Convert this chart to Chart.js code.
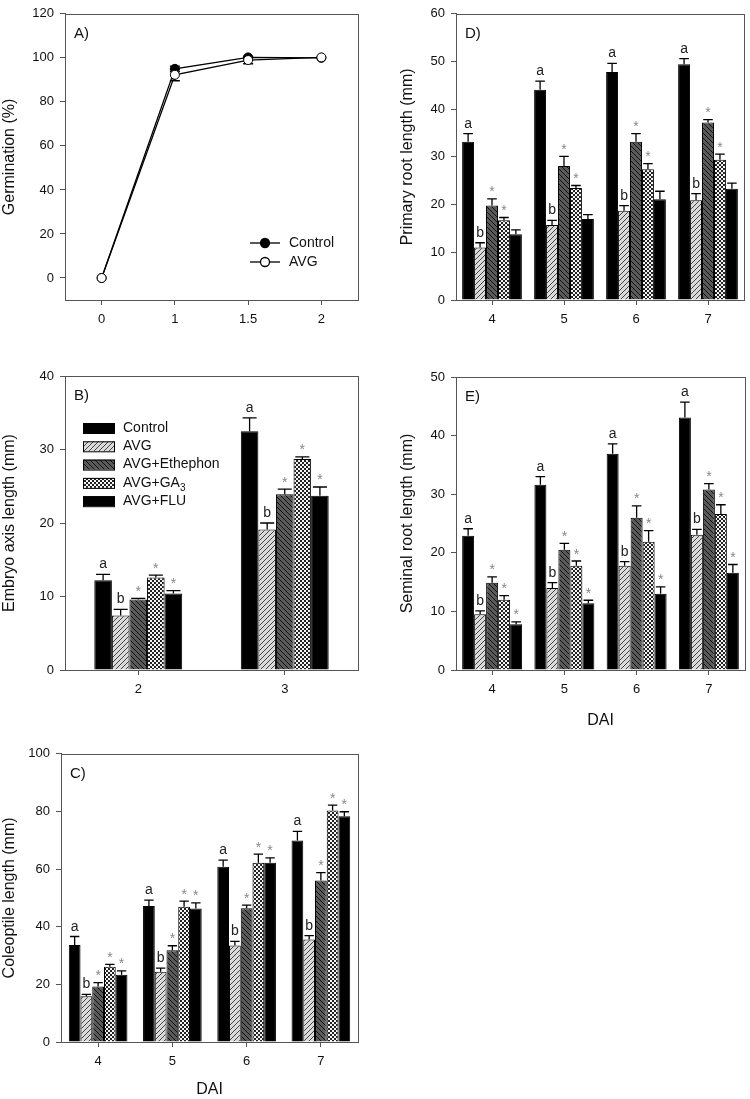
<!DOCTYPE html>
<html>
<head>
<meta charset="utf-8">
<script src="https://cdn.jsdelivr.net/npm/chart.js@4.4.0/dist/chart.umd.min.js"></script>
<style>
  body { margin: 0; background: #fff; width: 750px; height: 1099px; position: relative; overflow: hidden; }
  .panel { position: absolute; }
</style>
</head>
<body>
<div class="panel" style="left:0;top:0;width:375px;height:340px"><canvas id="chartA"></canvas></div>
<div class="panel" style="left:0;top:360px;width:375px;height:360px"><canvas id="chartB"></canvas></div>
<div class="panel" style="left:0;top:740px;width:375px;height:359px"><canvas id="chartC"></canvas></div>
<div class="panel" style="left:375px;top:0;width:375px;height:340px"><canvas id="chartD"></canvas></div>
<div class="panel" style="left:375px;top:360px;width:375px;height:370px"><canvas id="chartE"></canvas></div>
<script>
/* ============================
   DATA
   ============================ */

const treatments = ["Control", "AVG", "AVG+Ethephon", "AVG+GA3", "AVG+FLU"];

// A) germination (%)
const germDays = ["0", "1", "1.5", "2"];
const germControl    = [0, 95.0, 100.2, 100];
const germControlErr = [0, 1.2, 0.4, 0];
const germAVG        = [0, 92.3, 99.0, 100.2];
const germAVGErr     = [0, 2.7, 1.7, 0];

// B) embryo axis length (mm)
const embryoDays = ["2", "3"];
const embryoControl = [12.2, 32.5];
const embryoAVG     = [7.4, 19.1];
const embryoEth     = [9.6, 23.9];
const embryoGA3     = [12.6, 28.7];
const embryoFLU     = [10.4, 23.7];
const embryoControlErr = [0.8, 1.8];
const embryoAVGErr     = [0.85, 0.9];
const embryoEthErr     = [0.15, 0.7];
const embryoGA3Err     = [0.3, 0.3];
const embryoFLUErr     = [0.4, 1.2];
const embryoSig = ["a", "b", "*", "*", "*"];

// C) coleoptile length (mm)
const dai = ["4", "5", "6", "7"];
const coleControl = [33.7, 47.2, 60.8, 69.9];
const coleAVG     = [15.9, 24.4, 33.5, 35.6];
const coleEth     = [19.3, 31.8, 46.4, 56.0];
const coleGA3     = [26.1, 46.9, 62.2, 80.3];
const coleFLU     = [23.3, 46.3, 62.2, 78.3];
const coleControlErr = [2.9, 2.0, 2.3, 3.2];
const coleAVGErr     = [0.6, 1.2, 1.4, 1.3];
const coleEthErr     = [1.3, 1.6, 1.1, 2.8];
const coleGA3Err     = [0.8, 2.0, 3.0, 1.9];
const coleFLUErr     = [1.4, 2.0, 1.7, 1.6];
const coleSig = ["a", "b", "*", "*", "*"];

// D) primary root length (mm)
const primControl = [33.2, 44.1, 47.8, 49.4];
const primAVG     = [11.0, 15.7, 18.7, 20.9];
const primEth     = [19.8, 28.1, 33.2, 37.2];
const primGA3     = [16.7, 23.5, 27.4, 29.4];
const primFLU     = [13.8, 17.0, 21.1, 23.3];
const primControlErr = [1.7, 1.8, 1.8, 1.2];
const primAVGErr     = [1.0, 1.0, 1.1, 1.4];
const primEthErr     = [1.4, 2.0, 1.7, 0.6];
const primGA3Err     = [0.6, 0.5, 1.2, 1.2];
const primFLUErr     = [0.9, 0.9, 1.7, 1.2];
const primSig = ["a", "b", "*", "*", ""];

// E) seminal root length (mm)
const semControl = [22.9, 31.6, 36.9, 43.1];
const semAVG     = [9.5, 14.0, 17.8, 23.1];
const semEth     = [14.9, 20.5, 26.0, 30.8];
const semGA3     = [12.0, 17.8, 21.9, 26.6];
const semFLU     = [7.8, 11.4, 13.0, 16.6];
const semControlErr = [1.2, 1.4, 1.7, 2.6];
const semAVGErr     = [0.6, 0.9, 0.7, 0.9];
const semEthErr     = [1.0, 1.1, 2.0, 1.0];
const semGA3Err     = [0.7, 0.8, 1.9, 1.6];
const semFLUErr     = [0.4, 0.5, 1.2, 1.4];
const semSig = ["a", "b", "*", "*", "*"];

/* ============================
   STYLE HELPERS
   ============================ */

const FONT = "'Liberation Sans', Arial, Helvetica, sans-serif";
const AXIS_GRAY = "#555";
Chart.defaults.font.family = FONT;
Chart.defaults.color = "#111";

function makePattern(kind) {
  const c = document.createElement("canvas");
  const g = c.getContext("2d");
  if (kind === "avg") {
    c.width = c.height = 5;
    g.fillStyle = "#dadada"; g.fillRect(0, 0, 5, 5);
    g.strokeStyle = "#444"; g.lineWidth = 1;
    g.beginPath();
    g.moveTo(0, 5); g.lineTo(5, 0);
    g.moveTo(-1, 1); g.lineTo(1, -1);
    g.moveTo(4, 6); g.lineTo(6, 4);
    g.stroke();
  } else if (kind === "eth") {
    c.width = c.height = 5;
    g.fillStyle = "#5a5a5a"; g.fillRect(0, 0, 5, 5);
    g.strokeStyle = "#111"; g.lineWidth = 1;
    g.beginPath();
    g.moveTo(0, 0); g.lineTo(5, 5);
    g.moveTo(-1, 4); g.lineTo(1, 6);
    g.moveTo(4, -1); g.lineTo(6, 1);
    g.stroke();
  } else {
    c.width = c.height = 4;
    g.fillStyle = "#f4f4f4"; g.fillRect(0, 0, 4, 4);
    g.fillStyle = "#222";
    g.fillRect(0, 0, 2, 2); g.fillRect(2, 2, 2, 2);
  }
  return g.createPattern(c, "repeat");
}

const treatmentFills = ["#000", makePattern("avg"), makePattern("eth"), makePattern("ga3"), "#000"];

/* ============================
   PLUGINS
   ============================ */

// full box around the plot area
const framePlugin = {
  id: "frame",
  afterDraw(chart) {
    const a = chart.chartArea, ctx = chart.ctx;
    ctx.save();
    ctx.strokeStyle = AXIS_GRAY;
    ctx.lineWidth = 1;
    ctx.strokeRect(Math.round(a.left) + 0.5, Math.round(a.top) + 0.5,
                   Math.round(a.right - a.left), Math.round(a.bottom - a.top));
    ctx.restore();
  }
};

// "A)", "B)" ... tag in the top-left corner
const tagPlugin = {
  id: "tag",
  afterDraw(chart, args, opts) {
    if (!opts.text) return;
    const a = chart.chartArea, ctx = chart.ctx;
    ctx.save();
    ctx.font = "15px " + FONT;
    ctx.fillStyle = "#111";
    ctx.textAlign = "left";
    ctx.textBaseline = "alphabetic";
    ctx.fillText(opts.text, a.left + 9, a.top + 24);
    ctx.restore();
  }
};

// upper error bars + significance letters on bars
const barExtrasPlugin = {
  id: "barExtras",
  afterDatasetsDraw(chart) {
    if (chart.config.type !== "bar") return;
    const ctx = chart.ctx, y = chart.scales.y;
    chart.data.datasets.forEach((ds, i) => {
      const meta = chart.getDatasetMeta(i);
      meta.data.forEach((bar, j) => {
        const yt = y.getPixelForValue(ds.data[j] + ds.err[j]);
        const cap = bar.width * 0.4;
        ctx.save();
        ctx.strokeStyle = "#000";
        ctx.lineWidth = 1.3;
        ctx.beginPath();
        ctx.moveTo(bar.x, bar.y); ctx.lineTo(bar.x, yt);
        ctx.moveTo(bar.x - cap, yt); ctx.lineTo(bar.x + cap, yt);
        ctx.stroke();
        const s = ds.sig;
        if (s) {
          ctx.textAlign = "center";
          ctx.textBaseline = "alphabetic";
          if (s === "*") {
            ctx.font = "14px " + FONT;
            ctx.fillStyle = "#888";
            ctx.fillText(s, bar.x, yt - 2.5);
          } else {
            ctx.font = "14px " + FONT;
            ctx.fillStyle = "#222";
            ctx.fillText(s, bar.x, yt - 6);
          }
        }
        ctx.restore();
      });
    });
  }
};

// symmetric error bars for the germination curve, under the points
const lineErrPlugin = {
  id: "lineErr",
  beforeDatasetsDraw(chart) {
    if (chart.config.type !== "line") return;
    const ctx = chart.ctx, y = chart.scales.y;
    chart.data.datasets.forEach((ds, i) => {
      chart.getDatasetMeta(i).data.forEach((pt, j) => {
        const e = ds.err[j];
        if (!e) return;
        const y1 = y.getPixelForValue(ds.data[j] - e);
        const y2 = y.getPixelForValue(ds.data[j] + e);
        ctx.save();
        ctx.strokeStyle = "#000";
        ctx.lineWidth = 1.3;
        ctx.beginPath();
        ctx.moveTo(pt.x, y1); ctx.lineTo(pt.x, y2);
        ctx.moveTo(pt.x - 5, y1); ctx.lineTo(pt.x + 5, y1);
        ctx.moveTo(pt.x - 5, y2); ctx.lineTo(pt.x + 5, y2);
        ctx.stroke();
        ctx.restore();
      });
    });
  }
};

// legend drawn inside the plot area
const innerLegendPlugin = {
  id: "innerLegend",
  afterDraw(chart, args, opts) {
    if (!opts.mode) return;
    const a = chart.chartArea, ctx = chart.ctx;
    ctx.save();
    ctx.font = "14px " + FONT;
    ctx.fillStyle = "#111";
    ctx.textBaseline = "middle";
    ctx.textAlign = "left";
    if (opts.mode === "line") {
      chart.data.datasets.forEach((ds, i) => {
        const yy = a.bottom - 57 + i * 19;
        const x0 = a.right - 108, x1 = a.right - 78;
        ctx.strokeStyle = "#000"; ctx.lineWidth = 1.3;
        ctx.beginPath(); ctx.moveTo(x0, yy); ctx.lineTo(x1, yy); ctx.stroke();
        ctx.beginPath(); ctx.arc((x0 + x1) / 2, yy, 4.5, 0, Math.PI * 2);
        ctx.fillStyle = ds.pointBackgroundColor; ctx.fill(); ctx.stroke();
        ctx.fillStyle = "#111";
        ctx.fillText(ds.label, a.right - 69, yy);
      });
    } else {
      chart.data.datasets.forEach((ds, i) => {
        const yy = a.top + 52 + i * 18.3;
        const bx = a.left + 18;
        ctx.fillStyle = ds.backgroundColor;
        ctx.fillRect(bx, yy - 5, 32, 10);
        ctx.strokeStyle = "#000"; ctx.lineWidth = 1;
        ctx.strokeRect(bx + 0.5, yy - 5 + 0.5, 31, 10);
        ctx.fillStyle = "#111";
        ctx.font = "14px " + FONT;
        const m = ds.label.match(/^(.*GA)(\d)$/);
        if (m) {
          ctx.fillText(m[1], a.left + 58, yy);
          const w = ctx.measureText(m[1]).width;
          ctx.font = "10px " + FONT;
          ctx.fillText(m[2], a.left + 58 + w, yy + 5);
        } else {
          ctx.fillText(ds.label, a.left + 58, yy);
        }
      });
    }
    ctx.restore();
  }
};

Chart.register(framePlugin, tagPlugin, barExtrasPlugin, lineErrPlugin, innerLegendPlugin);

/* ============================
   SCALE FACTORY
   ============================ */

function xScale(opts) {
  return {
    type: "category",
    offset: true,
    grid: { display: true, offset: false, drawOnChartArea: false, drawTicks: true, tickLength: 5, color: AXIS_GRAY },
    border: { display: true, color: AXIS_GRAY },
    ticks: { font: { size: 13 }, color: "#111", padding: 7, maxRotation: 0 },
    title: opts.title ? { display: true, text: opts.title, font: { size: 16 }, color: "#111", padding: { top: opts.titlePad || 0, bottom: 0 } } : { display: false },
    afterFit(s) { s.height = opts.height; }
  };
}

function yScale(opts) {
  return {
    min: opts.min, max: opts.max,
    grid: { display: true, drawOnChartArea: false, drawTicks: true, tickLength: 5, color: AXIS_GRAY },
    border: { display: true, color: AXIS_GRAY },
    ticks: { stepSize: opts.step, font: { size: 13 }, color: "#111", padding: 6 },
    title: { display: true, text: opts.title, font: { size: 16 }, color: "#111", padding: { top: opts.titlePad || 0, bottom: 0 } },
    afterBuildTicks(s) { s.ticks = s.ticks.filter(t => t.value >= 0); },
    afterFit(s) { s.width = opts.width; }
  };
}

/* ============================
   A) GERMINATION
   ============================ */

new Chart(document.getElementById("chartA"), {
  type: "line",
  data: {
    labels: germDays,
    datasets: [
      { label: "Control", data: germControl, err: germControlErr, order: 2,
        borderColor: "#000", borderWidth: 1.3, tension: 0,
        pointRadius: 4.5, pointBackgroundColor: "#000", pointBorderColor: "#000", pointBorderWidth: 1 },
      { label: "AVG", data: germAVG, err: germAVGErr, order: 1,
        borderColor: "#000", borderWidth: 1.3, tension: 0,
        pointRadius: 4.5, pointBackgroundColor: "#fff", pointBorderColor: "#000", pointBorderWidth: 1 }
    ]
  },
  options: {
    responsive: true, maintainAspectRatio: false, animation: false,
    layout: { padding: { top: 7, right: 17, left: 0, bottom: 0 } },
    plugins: { legend: { display: false }, tooltip: { enabled: false },
               tag: { text: "A)" }, innerLegend: { mode: "line" } },
    scales: {
      x: xScale({ height: 40 }),
      y: yScale({ min: -10, max: 120, step: 20, width: 65, title: "Germination (%)" })
    }
  }
});

/* ============================
   BAR PANELS
   ============================ */

function barPanel(id, cfg) {
  return new Chart(document.getElementById(id), {
    type: "bar",
    data: {
      labels: cfg.labels,
      datasets: treatments.map((t, i) => ({
        label: t,
        data: cfg.values[i],
        err: cfg.errors[i],
        sig: cfg.sig[i],
        backgroundColor: treatmentFills[i],
        borderColor: "#000",
        borderWidth: 1,
        barPercentage: 1,
        categoryPercentage: cfg.catPct
      }))
    },
    options: {
      responsive: true, maintainAspectRatio: false, animation: false,
      layout: { padding: { top: cfg.padTop, right: cfg.padRight, left: 0, bottom: 0 } },
      plugins: { legend: { display: false }, tooltip: { enabled: false },
                 tag: { text: cfg.tag }, innerLegend: { mode: cfg.legend ? "box" : null } },
      scales: {
        x: xScale({ height: cfg.xHeight, title: cfg.xTitle, titlePad: cfg.xTitlePad }),
        y: yScale({ min: 0, max: cfg.max, step: cfg.step, width: cfg.yWidth, title: cfg.yTitle, titlePad: cfg.yTitlePad })
      }
    }
  });
}

barPanel("chartB", {
  tag: "B)", labels: embryoDays, legend: true,
  values: [embryoControl, embryoAVG, embryoEth, embryoGA3, embryoFLU],
  errors: [embryoControlErr, embryoAVGErr, embryoEthErr, embryoGA3Err, embryoFLUErr],
  sig: embryoSig, catPct: 0.6,
  max: 40, step: 10, yTitle: "Embryo axis length (mm)",
  padTop: 16, padRight: 17, yWidth: 65, xHeight: 50
});

barPanel("chartC", {
  tag: "C)", labels: dai,
  values: [coleControl, coleAVG, coleEth, coleGA3, coleFLU],
  errors: [coleControlErr, coleAVGErr, coleEthErr, coleGA3Err, coleFLUErr],
  sig: coleSig, catPct: 0.79,
  max: 100, step: 20, yTitle: "Coleoptile length (mm)",
  xTitle: "DAI", xTitlePad: 0,
  padTop: 8, padRight: 17, yWidth: 61, xHeight: 57
});

barPanel("chartD", {
  tag: "D)", labels: dai,
  values: [primControl, primAVG, primEth, primGA3, primFLU],
  errors: [primControlErr, primAVGErr, primEthErr, primGA3Err, primFLUErr],
  sig: primSig, catPct: 0.83,
  max: 60, step: 10, yTitle: "Primary root length (mm)", yTitlePad: 23,
  padTop: 7, padRight: 6, yWidth: 81, xHeight: 40
});

barPanel("chartE", {
  tag: "E)", labels: dai,
  values: [semControl, semAVG, semEth, semGA3, semFLU],
  errors: [semControlErr, semAVGErr, semEthErr, semGA3Err, semFLUErr],
  sig: semSig, catPct: 0.83,
  max: 50, step: 10, yTitle: "Seminal root length (mm)", yTitlePad: 23,
  xTitle: "DAI", xTitlePad: 2,
  padTop: 17, padRight: 5, yWidth: 81, xHeight: 60
});
</script>
</body>
</html>
